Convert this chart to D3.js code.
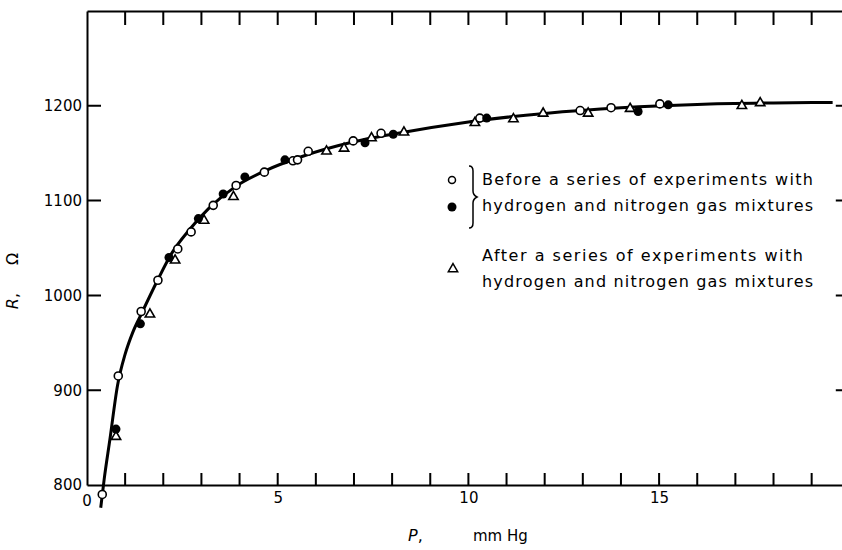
<!DOCTYPE html>
<html>
<head>
<meta charset="utf-8">
<script src="https://cdn.jsdelivr.net/npm/d3@7"></script>
<style>
	body { margin: 0; background: #fff; }
	text { font-family: "DejaVu Sans", sans-serif; fill: #000; }
</style>
</head>
<body>
<div id="chart"></div>
<script>

// data (P in mm Hg, R in ohm)
var openP = [0.40, 0.82, 1.42, 1.86, 2.38, 2.73, 3.31, 3.91, 4.65, 5.40, 5.52, 5.80, 6.98, 7.71, 10.30, 12.93, 13.74, 15.02];
var openR = [790, 915, 983, 1016, 1049, 1067, 1095, 1116, 1130, 1142, 1143, 1152, 1163, 1171, 1187, 1195, 1198, 1202];

var filledP = [0.76, 1.40, 2.15, 2.92, 3.57, 4.14, 5.19, 7.29, 8.03, 10.48, 14.45, 15.24];
var filledR = [859, 970, 1040, 1081, 1107, 1125, 1143, 1161, 1170, 1187, 1194, 1201];

var triP = [0.76, 1.65, 2.31, 3.07, 3.84, 6.28, 6.74, 7.46, 8.31, 10.17, 11.18, 11.96, 13.14, 14.24, 17.17, 17.65];
var triR = [851, 980, 1037, 1079, 1104, 1152, 1155, 1166, 1172, 1182, 1186, 1192, 1192, 1197, 1200, 1203];

// fitted curve drawn through the points
var curveP = [0.36, 0.45, 0.6, 0.8, 1.0, 1.2, 1.42, 1.85, 2.2, 2.7, 3.2, 3.9, 4.7, 5.6, 7, 8, 10, 12, 14, 16, 18, 19.55];
var curveR = [776, 806, 848, 905, 938, 961, 980, 1016, 1043, 1070, 1092, 1115, 1132, 1146, 1162, 1170, 1183, 1192, 1198, 1201.5, 1203, 1203.5];

var xTicks = d3.range(1, 20);
var yTicks = [800, 900, 1000, 1100, 1200];
var xLabels = [5, 10, 15];

var legendRows = [
	"Before a series of experiments with",
	"hydrogen and nitrogen gas mixtures",
	"After a series of experiments with",
	"hydrogen and nitrogen gas mixtures"
];

// set the specs
var width = 842;
var height = 550;
var marginLeft = 87;
var marginTop = 11;
var bottomY = 485;

var svg = d3.select("#chart")
	.append("svg")
	.attr("width", width)
	.attr("height", height);

// scales
var xScale = d3.scaleLinear()
	.domain([0, 20])
	.range([marginLeft, marginLeft + 38.14 * 20]);

var yScale = d3.scaleLinear()
	.domain([800, 1300])
	.range([bottomY, marginTop]);

var xRight = xScale(20);

// axes: frame lines and labels
var xAxis = d3.axisBottom(xScale)
	.tickValues(xLabels)
	.tickSize(0)
	.tickPadding(7)
	.tickFormat(function(d){ return d; });

var topAxis = d3.axisTop(xScale).tickValues([]).tickSize(0);

var yAxis = d3.axisLeft(yScale)
	.tickValues(yTicks)
	.tickSize(0)
	.tickPadding(5)
	.tickFormat(function(d){ return d; });

var rightAxis = d3.axisRight(yScale).tickValues([]).tickSize(0);

function styleAxis(g){
	g.selectAll("path").attr("stroke", "#000").attr("stroke-width", 2);
	g.selectAll("text")
		.style("font-family", "'DejaVu Sans', sans-serif")
		.style("font-size", "15px")
		.attr("fill", "#000");
}

svg.append("g")
	.attr("transform", "translate(0," + bottomY + ")")
	.call(xAxis)
	.call(styleAxis);

svg.append("g")
	.attr("transform", "translate(0," + marginTop + ")")
	.call(topAxis)
	.call(styleAxis);

svg.append("g")
	.attr("transform", "translate(" + marginLeft + ",0)")
	.call(yAxis)
	.call(styleAxis);

svg.append("g")
	.attr("transform", "translate(" + xRight + ",0)")
	.call(rightAxis)
	.call(styleAxis);

// inward tick marks on all four sides, drawn as paths
function tickPath(values, pos, from, to, vertical){
	return values.map(function(d){
		var p = pos(d);
		return vertical
			? "M" + p + "," + from + "V" + to
			: "M" + from + "," + p + "H" + to;
	}).join("");
}

var tickMarks = [
	tickPath(xTicks, xScale, bottomY, bottomY - 12, true),
	tickPath(xTicks, xScale, marginTop, marginTop + 14, true),
	tickPath(yTicks.slice(1), yScale, marginLeft, marginLeft + 14, false),
	tickPath(yTicks.slice(1), yScale, xRight, xRight - 14, false)
];

svg.selectAll("path.tick-mark")
	.data(tickMarks)
	.enter()
	.append("path")
	.attr("class", "tick-mark")
	.attr("d", function(d){ return d; })
	.attr("fill", "none")
	.attr("stroke", "#000")
	.attr("stroke-width", 2);

// the "0" of the x axis sits under the corner
svg.append("text")
	.attr("x", xScale(0))
	.attr("y", 506)
	.attr("text-anchor", "middle")
	.style("font-size", "15px")
	.text("0");

// axis titles
svg.append("text")
	.attr("transform", "translate(18,281) rotate(-90)")
	.attr("text-anchor", "middle")
	.style("font-size", "16px")
	.html('<tspan font-style="italic">R</tspan>,<tspan dx="28">\u03A9</tspan>');

svg.append("text")
	.attr("x", 408)
	.attr("y", 541)
	.style("font-size", "16px")
	.html('<tspan font-style="italic">P</tspan>,');

svg.append("text")
	.attr("x", 473)
	.attr("y", 541)
	.style("font-size", "15px")
	.text("mm Hg");

// curve
var curveData = curveP.map(function(p, i){ return [p, curveR[i]]; });

var line = d3.line()
	.x(function(d){ return xScale(d[0]); })
	.y(function(d){ return yScale(d[1]); })
	.curve(d3.curveMonotoneX);

svg.append("path")
	.datum(curveData)
	.attr("d", line)
	.attr("fill", "none")
	.attr("stroke", "#000")
	.attr("stroke-width", 3);

// points
var triangle = d3.symbol().type(d3.symbolTriangle).size(38);

svg.selectAll("path.tri")
	.data(triP)
	.enter()
	.append("path")
	.attr("class", "tri")
	.attr("d", triangle)
	.attr("transform", function(d, i){
		return "translate(" + xScale(d) + "," + yScale(triR[i]) + ")";
	})
	.attr("fill", "#fff")
	.attr("stroke", "#000")
	.attr("stroke-width", 1.6);

svg.selectAll("circle.open")
	.data(openP)
	.enter()
	.append("circle")
	.attr("class", "open")
	.attr("cx", function(d){ return xScale(d); })
	.attr("cy", function(d, i){ return yScale(openR[i]); })
	.attr("r", 4)
	.attr("fill", "#fff")
	.attr("stroke", "#000")
	.attr("stroke-width", 1.6);

svg.selectAll("circle.filled")
	.data(filledP)
	.enter()
	.append("circle")
	.attr("class", "filled")
	.attr("cx", function(d){ return xScale(d); })
	.attr("cy", function(d, i){ return yScale(filledR[i]); })
	.attr("r", 4.5)
	.attr("fill", "#000");

// legend
var legend = svg.append("g");

legend.append("circle")
	.attr("cx", 452).attr("cy", 180).attr("r", 3.5)
	.attr("fill", "#fff").attr("stroke", "#000").attr("stroke-width", 1.5);

legend.append("circle")
	.attr("cx", 452).attr("cy", 207).attr("r", 4.5)
	.attr("fill", "#000");

legend.append("path")
	.attr("d", triangle)
	.attr("transform", "translate(453,269)")
	.attr("fill", "#fff").attr("stroke", "#000").attr("stroke-width", 1.5);

// brace
legend.append("path")
	.attr("d", "M469,166 Q473,166 473,171 L473,191 Q473,195 477,197 Q473,199 473,203 L473,223 Q473,228 469,228")
	.attr("fill", "none")
	.attr("stroke", "#000")
	.attr("stroke-width", 1.5);

var rowY = [185, 211, 261, 287];
var rowLen = [331, 331, 321, 331];

legend.selectAll("text")
	.data(legendRows)
	.enter()
	.append("text")
	.attr("x", 482)
	.attr("y", function(d, i){ return rowY[i]; })
	.attr("textLength", function(d, i){ return rowLen[i]; })
	.attr("lengthAdjust", "spacing")
	.style("font-size", "16px")
	.text(function(d){ return d; });

</script>
</body>
</html>
